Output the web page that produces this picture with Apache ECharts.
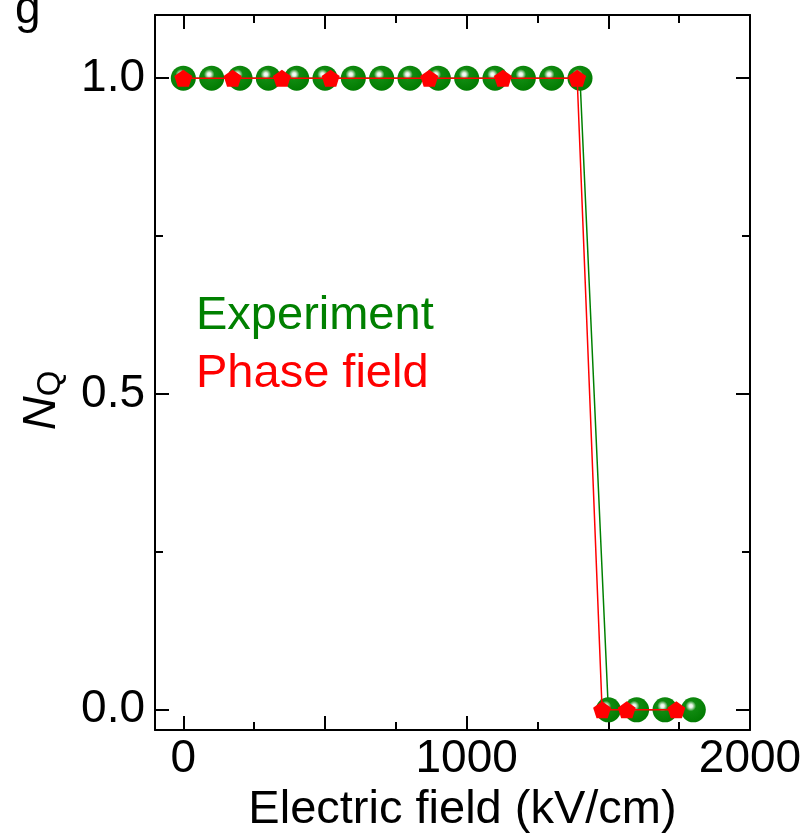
<!DOCTYPE html>
<html>
<head>
<meta charset="utf-8">
<title>N_Q vs electric field</title>
<script src="https://cdn.jsdelivr.net/npm/echarts@6/dist/echarts.min.js"></script>
<style>
  html, body { margin: 0; padding: 0; background: #fff; overflow: hidden; }
  #chart { width: 802px; height: 837px; }
</style>
</head>
<body>
<div id="chart"></div>
<script>
// experiment (green balls)
const expField = [0, 100, 200, 300, 400, 500, 600, 700, 800, 900, 1000, 1100, 1200, 1300, 1400, 1500, 1600, 1700, 1800]
const expNQ = [1, 1, 1, 1, 1, 1, 1, 1, 1, 1, 1, 1, 1, 1, 1, 0, 0, 0, 0]
// phase field simulation (red pentagons)
const simField = [0, 174, 348, 520, 868, 1128, 1390, 1478, 1565, 1740]
const simNQ = [1, 1, 1, 1, 1, 1, 1, 0, 0, 0]
// ticks
const xMajor = [0, 500, 1000, 1500, 2000]
const xMinor = [250, 750, 1250, 1750]
const xLabels = [0, 1000, 2000]
const yMajor = [0, 0.5, 1.0]
const yMinor = [0.25, 0.75]

const FONT = 'Liberation Sans, Arial, sans-serif'
const X_MIN = -100, X_MAX = 2000
const Y_MIN = -0.032, Y_MAX = 1.1

const chart = echarts.init(document.getElementById('chart'))

// one axis = one set of inward ticks, on a given side
function xAx(pos, ticks, len, showLine, labels) {
  return {
    type: 'value', position: pos, min: X_MIN, max: X_MAX,
    axisLine: { show: showLine, onZero: false, lineStyle: { color: '#000', width: 2 } },
    axisTick: { show: true, inside: true, length: len, customValues: ticks, lineStyle: { color: '#000', width: 2 } },
    axisLabel: labels ? {
      show: true, customValues: labels, color: '#000', fontSize: 46, fontFamily: FONT, margin: 6,
      formatter: (v) => String(v)
    } : { show: false },
    splitLine: { show: false }
  }
}
function yAx(pos, ticks, len, showLine, labels) {
  return {
    type: 'value', position: pos, min: Y_MIN, max: Y_MAX,
    axisLine: { show: showLine, onZero: false, lineStyle: { color: '#000', width: 2 } },
    axisTick: { show: true, inside: true, length: len, customValues: ticks, lineStyle: { color: '#000', width: 2 } },
    axisLabel: labels ? {
      show: true, customValues: labels, color: '#000', fontSize: 46, fontFamily: FONT, margin: 10,
      formatter: (v) => v.toFixed(1)
    } : { show: false },
    splitLine: { show: false }
  }
}

const xMain = xAx('bottom', xMajor, 14, true, xLabels)
xMain.name = 'Electric field (kV/cm)'
xMain.nameLocation = 'middle'
xMain.nameGap = 55
xMain.nameTextStyle = { color: '#000', fontSize: 47, fontFamily: FONT, padding: [0, 0, 0, 20] }

const yMain = yAx('left', yMajor, 14, true, yMajor)
yMain.name = '{n|N}{q|Q}'
yMain.nameLocation = 'middle'
yMain.nameRotate = 90
yMain.nameGap = 88
yMain.nameTextStyle = {
  color: '#000', fontFamily: FONT, padding: [0, 56, 0, 0],
  rich: {
    n: { fontSize: 47, fontStyle: 'italic', fontFamily: FONT, color: '#000', lineHeight: 50 },
    q: { fontSize: 33, fontFamily: FONT, color: '#000', lineHeight: 20, verticalAlign: 'bottom' }
  }
}

const ballColor = {
  type: 'radial', x: 0.4, y: 0.35, r: 0.7,
  colorStops: [
    { offset: 0, color: '#ffffff' },
    { offset: 0.1, color: '#e4f2e4' },
    { offset: 0.3, color: '#108a10' },
    { offset: 1, color: '#007a00' }
  ]
}

const option = {
  animation: false,
  grid: { left: 155, right: 52, top: 15, bottom: 107, containLabel: false, outerBoundsMode: 'none' },
  xAxis: [
    xMain,
    xAx('bottom', xMinor, 8, false, null),
    xAx('top', xMajor, 14, true, null),
    xAx('top', xMinor, 8, false, null)
  ],
  yAxis: [
    yMain,
    yAx('left', yMinor, 8, false, null),
    yAx('right', yMajor, 14, true, null),
    yAx('right', yMinor, 8, false, null)
  ],
  series: [
    {
      name: 'Experiment',
      type: 'line',
      data: expField.map((x, i) => [x, expNQ[i]]),
      symbol: 'circle',
      symbolSize: 25,
      itemStyle: { color: ballColor },
      lineStyle: { color: '#008000', width: 1.5 },
      z: 2
    },
    {
      name: 'Phase field',
      type: 'line',
      data: simField.map((x, i) => [x, simNQ[i]]),
      symbol: 'path://M50,0 L100,38 L81,100 L19,100 L0,38 Z',
      symbolSize: [18, 17],
      itemStyle: { color: '#ff0000' },
      lineStyle: { color: '#ff0000', width: 1.5 },
      z: 3
    }
  ],
  graphic: [
    { type: 'text', left: 15, top: -13, style: { text: 'g', fontSize: 46, fontFamily: FONT, fill: '#000' } },
    { type: 'text', x: 196, y: 316, style: { text: 'Experiment', fontSize: 47, fontFamily: FONT, fill: '#008000', verticalAlign: 'middle' } },
    { type: 'text', x: 196, y: 374, style: { text: 'Phase field', fontSize: 47, fontFamily: FONT, fill: '#ff0000', verticalAlign: 'middle' } }
  ]
}

chart.setOption(option)
</script>
</body>
</html>
